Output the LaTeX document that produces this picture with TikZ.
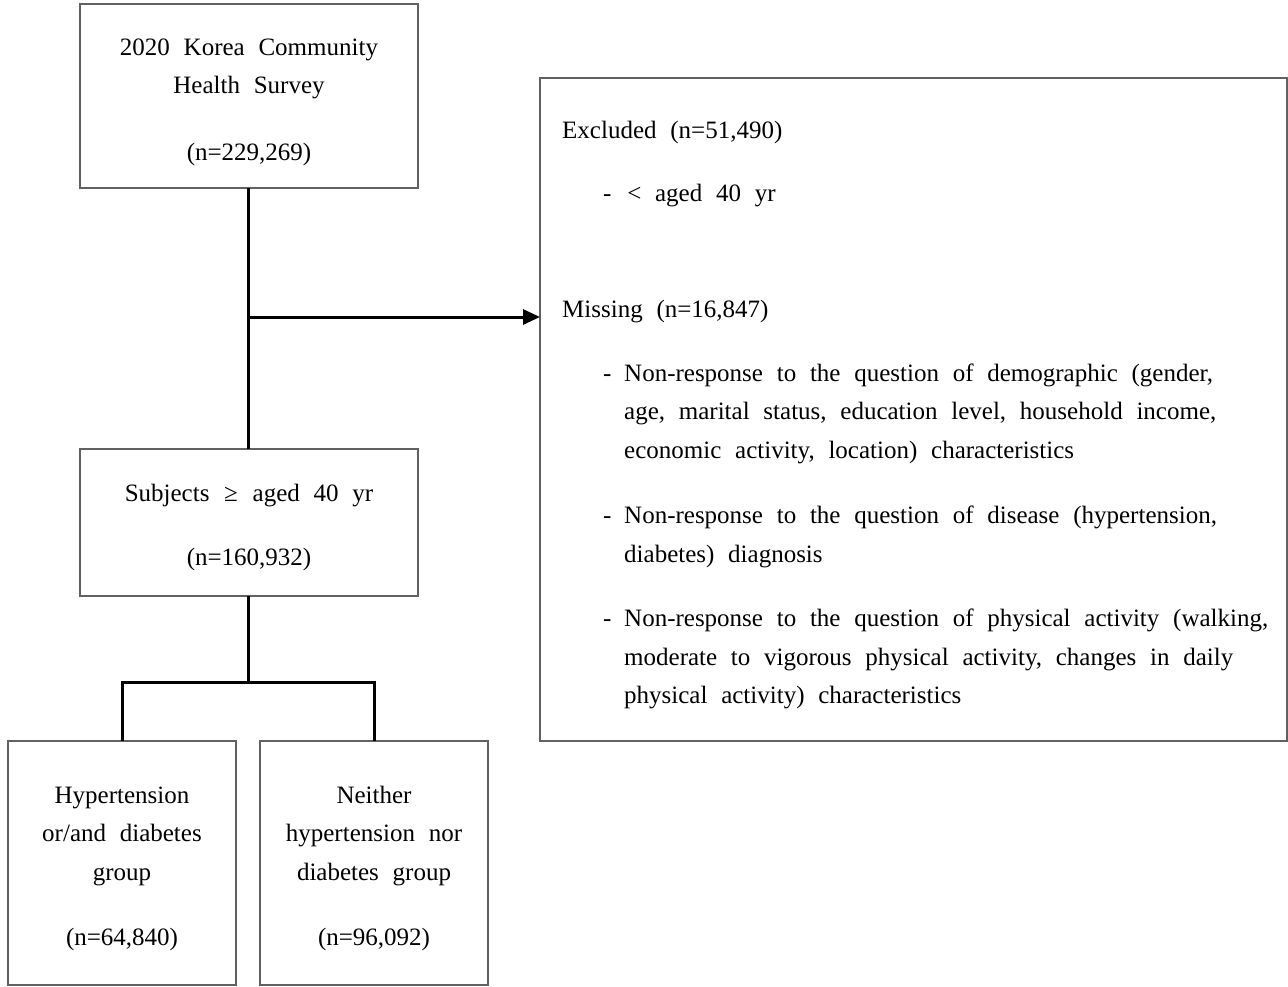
\documentclass[tikz,border=0pt]{standalone}
\usepackage{fontspec}
\setmainfont{Liberation Serif}
\usetikzlibrary{arrows.meta}
\newcommand\kfont{\fontsize{25}{38.5}\selectfont\spaceskip=0.55em plus 0.05em minus 0.05em\relax}
\tikzset{
  box/.style={draw=black!62, line width=1.4pt, inner sep=0pt, outer sep=0pt},
  conn/.style={draw=black, line width=3pt},
  ctext/.style={anchor=base, inner sep=0pt, font=\kfont},
  ltext/.style={anchor=base west, inner sep=0pt, font=\kfont},
}
\newcommand\ctr[2]{\parbox[t]{#1}{\centering\kfont #2}}
\newcommand\lft[1]{\parbox[t]{700pt}{\raggedright\kfont #1}}
\begin{document}
\begin{tikzpicture}[x=1pt,y=-1pt]
\useasboundingbox (0,0) rectangle (1288,986);
% boxes
\node[box, minimum width=338pt, minimum height=184pt] (top) at (249,96) {};
\node[box, minimum width=338pt, minimum height=147pt] (mid) at (249,522.5) {};
\node[box, minimum width=747pt, minimum height=663pt] (excl) at (913.5,409.5) {};
\node[box, minimum width=228pt, minimum height=244pt] (hyp) at (122,863) {};
\node[box, minimum width=228pt, minimum height=244pt] (nei) at (374,863) {};
% box texts
\node[ctext] (toptxt) at (249,55) {\ctr{330pt}{2020 Korea Community\\Health Survey\\[28pt](n=229,269)}};
\node[ctext] (midtxt) at (249,501) {\ctr{330pt}{Subjects \kern1pt≥\kern1pt{} aged 40 yr\\[25.5pt](n=160,932)}};
\node[ctext] (hyptxt) at (122,803) {\ctr{220pt}{Hypertension\\or/and diabetes\\group\\[26.5pt](n=64,840)}};
\node[ctext] (neitxt) at (374,803) {\ctr{220pt}{Neither\\hypertension nor\\diabetes group\\[26.5pt](n=96,092)}};
% right box texts
\node[ltext] (exh) at (562,138) {Excluded (n=51,490)};
\node[ltext] (exd) at (603,201) {- \kern2pt< aged 40 yr};
\node[ltext] (mis) at (562,317) {Missing (n=16,847)};
\node[ltext] (d1) at (603,381) {-};
\node[ltext] (i1) at (624,381) {\lft{Non-response to the question of demographic (gender,\\age, marital status, education level, household income,\\economic activity, location) characteristics}};
\node[ltext] (d2) at (603,523.5) {-};
\node[ltext] (i2) at (624,523.5) {\lft{Non-response to the question of disease (hypertension,\\diabetes) diagnosis}};
\node[ltext] (d3) at (603,626.5) {-};
\node[ltext] (i3) at (624,626.5) {\lft{Non-response to the question of physical activity (walking,\\moderate to vigorous physical activity, changes in daily\\physical activity) characteristics}};
% connectors
\coordinate (junc) at (248,317);
\coordinate (split) at (248,682);
\draw[conn] (top.south -| junc) -- (mid.north -| junc);
\draw[conn, -{Triangle[length=17pt,width=15pt]}] (junc) -- (excl.west |- junc);
\draw[conn] (mid.south -| split) -- (split);
\draw[conn] (hyp.north) |- (split) -| (nei.north);
\end{tikzpicture}
\end{document}
